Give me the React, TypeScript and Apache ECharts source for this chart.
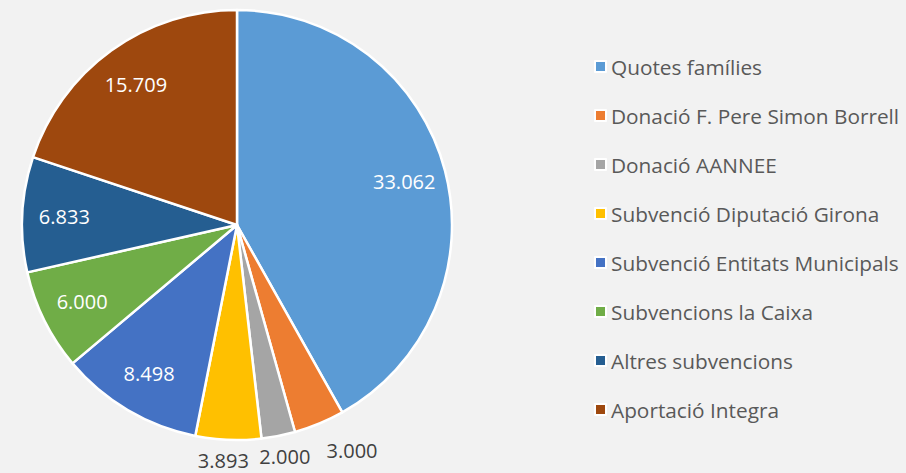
import React, { useEffect, useRef } from "react";
import * as echarts from "echarts";

const categories = [
  "Quotes famílies",
  "Donació F. Pere Simon Borrell",
  "Donació AANNEE",
  "Subvenció Diputació Girona",
  "Subvenció Entitats Municipals",
  "Subvencions la Caixa",
  "Altres subvencions",
  "Aportació Integra",
];
const values = [33062, 3000, 2000, 3893, 8498, 6000, 6833, 15709];
const colors = ["#5B9BD5", "#ED7D31", "#A5A5A5", "#FFC000", "#4472C4", "#70AD47", "#255E91", "#9E480E"];

const fmt = (v: number) => String(v).replace(/\B(?=(\d{3})+(?!\d))/g, ".");
const FONT = "Open Sans";

export default function App() {
  const ref = useRef<HTMLDivElement>(null);
  useEffect(() => {
    document.body.style.margin = "0";
    const chart = echarts.init(ref.current!, null, { renderer: "svg" });
    const total = values.reduce((a, b) => a + b, 0);
    const R = 215;
    const center = [237, 225];
    const isSmall = (v: number) => v / total < 0.055;
    const outerOffsets: Record<number, number[]> = { 1: [24, 6], 2: [2, -2], 3: [-4, -2] };

    chart.setOption({
      animation: false,
      backgroundColor: "#F2F2F2",
      legend: {
        orient: "vertical",
        left: 589,
        top: 51,
        itemWidth: 11,
        itemHeight: 11,
        itemGap: 28,
        icon: "rect",
        data: categories,
        textStyle: { color: "#595959", fontSize: 20.8, fontFamily: FONT, lineHeight: 20 },
        selectedMode: false,
      },
      series: [
        {
          type: "pie",
          name: "main",
          center,
          radius: R,
          startAngle: 90,
          clockwise: true,
          label: { show: false },
          labelLine: { show: false },
          emphasis: { disabled: true },
          itemStyle: { borderColor: "#FFFFFF", borderWidth: 2.5 },
          data: categories.map((c, i) => ({ name: c, value: values[i], itemStyle: { color: colors[i] } })),
        },
        {
          type: "pie",
          name: "innerLabels",
          center,
          radius: [R * 0.58, R],
          startAngle: 90,
          clockwise: true,
          silent: true,
          emphasis: { disabled: true },
          labelLine: { show: false },
          itemStyle: { color: "rgba(0,0,0,0)" },
          label: {
            position: "inside",
            color: "#FFFFFF",
            fontSize: 20,
            fontFamily: FONT,
            formatter: (p: any) => fmt(p.value),
          },
          data: categories.map((c, i) => ({
            name: c,
            value: values[i],
            label: { show: !isSmall(values[i]) },
          })),
        },
        {
          type: "pie",
          name: "outerLabels",
          center,
          radius: [R, R + 40],
          startAngle: 90,
          clockwise: true,
          silent: true,
          emphasis: { disabled: true },
          labelLine: { show: false },
          itemStyle: { color: "rgba(0,0,0,0)" },
          label: {
            position: "inside",
            color: "#404040",
            fontSize: 20,
            fontFamily: FONT,
            formatter: (p: any) => fmt(p.value),
          },
          data: categories.map((c, i) => ({
            name: c,
            value: values[i],
            label: { show: isSmall(values[i]), offset: outerOffsets[i] || [0, 0] },
          })),
        },
      ],
    });
    return () => chart.dispose();
  }, []);
  return <div ref={ref} style={{ width: 906, height: 473 }} />;
}
